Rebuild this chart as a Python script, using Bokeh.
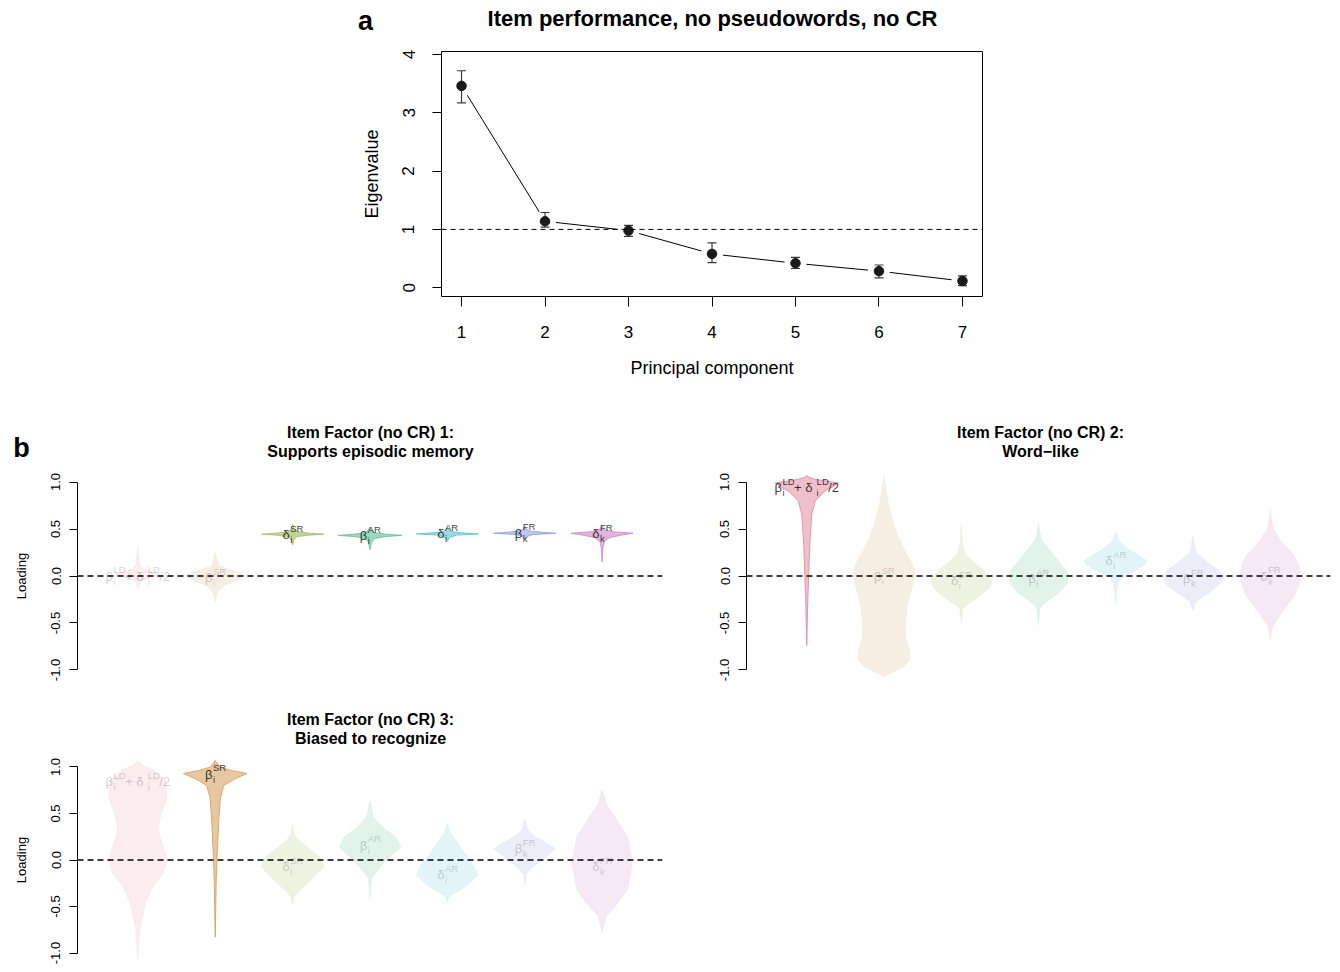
import math
from bokeh.plotting import figure
from bokeh.models import Range1d, Span, FixedTicker, NumeralTickFormatter, ColumnDataSource
from bokeh.layouts import column, row
from bokeh.embed import file_html
from bokeh.resources import INLINE
from bokeh.core.properties import value

FONT = "Liberation Sans"
W = 1340

# ---------------- Panel a data ----------------
components = [1, 2, 3, 4, 5, 6, 7]
eigen_mean = [3.46, 1.14, 0.98, 0.58, 0.42, 0.285, 0.115]
eigen_lower = [3.17, 1.04, 0.88, 0.43, 0.33, 0.17, 0.035]
eigen_upper = [3.72, 1.29, 1.07, 0.77, 0.52, 0.39, 0.205]

# ---------------- Panel b data ----------------
categories = ["LD", "SR_beta", "SR_delta", "AR_beta", "AR_delta", "FR_beta", "FR_delta"]
label_parts = [
    [("β", "n"), ("i", "sub"), ("LD", "sup"), (" + δ", "n"), ("i", "sub"), ("LD", "sup"), ("/2", "n")],
    [("β", "n"), ("i", "sub"), ("SR", "sup")],
    [("δ", "n"), ("i", "sub"), ("SR", "sup")],
    [("β", "n"), ("i", "sub"), ("AR", "sup")],
    [("δ", "n"), ("i", "sub"), ("AR", "sup")],
    [("β", "n"), ("k", "sub"), ("FR", "sup")],
    [("δ", "n"), ("k", "sub"), ("FR", "sup")],
]
fill_colors = ["#EFBFCA", "#E6C7A2", "#C4D39A", "#9CD8BD", "#9ED9E2", "#BFC5EC", "#E0B5DC"]
edge_colors = ["#E48FA3", "#D9A163", "#A5BE6E", "#68C29C", "#62C6D2", "#96A2DD", "#D08CCB"]

# Factor 1: Supports episodic memory  (violin profiles: loading values and half widths)
f1_y = [
    [-0.13, -0.06, -0.02, 0.02, 0.06, 0.10, 0.32],
    [-0.28, -0.17, -0.10, -0.04, 0.01, 0.06, 0.11, 0.25],
    [0.33, 0.39, 0.42, 0.435, 0.445, 0.455, 0.47, 0.50, 0.55],
    [0.28, 0.36, 0.40, 0.42, 0.432, 0.445, 0.46, 0.49, 0.52],
    [0.37, 0.41, 0.435, 0.448, 0.458, 0.47, 0.49, 0.52],
    [0.39, 0.42, 0.44, 0.455, 0.465, 0.48, 0.50, 0.53],
    [0.15, 0.30, 0.37, 0.41, 0.44, 0.455, 0.47, 0.49, 0.53],
]
f1_w = [
    [0, 0.03, 0.15, 0.30, 0.12, 0.03, 0],
    [0, 0.03, 0.12, 0.30, 0.39, 0.22, 0.05, 0],
    [0, 0.02, 0.06, 0.22, 0.40, 0.22, 0.06, 0.02, 0],
    [0, 0.02, 0.06, 0.20, 0.41, 0.20, 0.06, 0.02, 0],
    [0, 0.03, 0.12, 0.40, 0.22, 0.06, 0.02, 0],
    [0, 0.03, 0.10, 0.40, 0.22, 0.06, 0.02, 0],
    [0, 0.01, 0.03, 0.10, 0.28, 0.40, 0.15, 0.04, 0],
]
f1_label_y = [0.0, -0.02, 0.44, 0.43, 0.45, 0.455, 0.45]
f1_highlight = [0, 0, 1, 1, 1, 1, 1]

# Factor 2: Word-like
f2_y = [
    [-0.74, -0.30, 0.0, 0.34, 0.66, 0.80, 0.90, 0.96, 0.99, 1.01, 1.03, 1.05, 1.07],
    [-1.07, -1.02, -0.97, -0.88, -0.79, -0.65, -0.54, -0.33, -0.19, -0.01, 0.09, 0.23, 0.41, 0.59, 0.80, 1.00, 1.07],
    [-0.52, -0.35, -0.31, -0.23, -0.13, -0.05, 0.05, 0.13, 0.23, 0.35, 0.57],
    [-0.53, -0.35, -0.30, -0.19, -0.08, 0.02, 0.12, 0.23, 0.37, 0.45, 0.57],
    [-0.31, -0.15, -0.08, -0.01, 0.07, 0.12, 0.16, 0.22, 0.30, 0.38, 0.48],
    [-0.37, -0.27, -0.19, -0.10, -0.01, 0.06, 0.16, 0.25, 0.43],
    [-0.69, -0.54, -0.40, -0.23, -0.10, 0.02, 0.12, 0.23, 0.37, 0.52, 0.71],
]
f2_w = [
    [0, 0.012, 0.025, 0.04, 0.065, 0.11, 0.23, 0.36, 0.41, 0.25, 0.10, 0.03, 0],
    [0, 0.12, 0.25, 0.34, 0.33, 0.28, 0.28, 0.30, 0.34, 0.40, 0.39, 0.30, 0.19, 0.11, 0.05, 0.015, 0],
    [0, 0.02, 0.07, 0.22, 0.36, 0.40, 0.30, 0.19, 0.055, 0.015, 0],
    [0, 0.02, 0.06, 0.25, 0.37, 0.39, 0.30, 0.19, 0.055, 0.02, 0],
    [0, 0.015, 0.03, 0.08, 0.28, 0.38, 0.41, 0.30, 0.14, 0.04, 0],
    [0, 0.04, 0.19, 0.33, 0.41, 0.33, 0.17, 0.04, 0],
    [0, 0.03, 0.14, 0.30, 0.37, 0.39, 0.37, 0.30, 0.14, 0.03, 0],
]
f2_label_y = [0.94, -0.01, -0.05, -0.03, 0.16, -0.03, 0.0]
f2_highlight = [1, 0, 0, 0, 0, 0, 0]

# Factor 3: Biased to recognize
f3_y = [
    [-1.08, -0.74, -0.46, -0.28, -0.14, 0.0, 0.14, 0.32, 0.50, 0.67, 0.85, 0.97, 1.02, 1.07],
    [-0.83, -0.25, 0.0, 0.42, 0.67, 0.80, 0.87, 0.93, 0.96, 1.00, 1.07],
    [-0.48, -0.40, -0.35, -0.21, -0.07, 0.03, 0.10, 0.21, 0.28, 0.39],
    [-0.42, -0.20, -0.14, 0.0, 0.14, 0.25, 0.35, 0.46, 0.64],
    [-0.46, -0.40, -0.37, -0.28, -0.16, -0.05, 0.0, 0.10, 0.18, 0.28, 0.39],
    [-0.27, -0.15, -0.10, 0.0, 0.12, 0.20, 0.25, 0.32, 0.44],
    [-0.78, -0.60, -0.50, -0.32, -0.04, 0.25, 0.46, 0.60, 0.76],
]
f3_w = [
    [0, 0.03, 0.10, 0.20, 0.33, 0.38, 0.33, 0.26, 0.30, 0.38, 0.36, 0.20, 0.06, 0],
    [0, 0.012, 0.022, 0.045, 0.067, 0.11, 0.25, 0.41, 0.22, 0.06, 0],
    [0, 0.015, 0.07, 0.25, 0.41, 0.35, 0.25, 0.08, 0.02, 0],
    [0, 0.02, 0.07, 0.22, 0.40, 0.33, 0.17, 0.045, 0],
    [0, 0.02, 0.07, 0.25, 0.40, 0.34, 0.28, 0.20, 0.14, 0.05, 0],
    [0, 0.02, 0.07, 0.22, 0.40, 0.25, 0.14, 0.04, 0],
    [0, 0.055, 0.17, 0.33, 0.39, 0.33, 0.17, 0.055, 0],
]
f3_label_y = [0.84, 0.92, -0.07, 0.16, -0.16, 0.12, -0.07]
f3_highlight = [0, 1, 0, 0, 0, 0, 0]

# ---------------- helpers ----------------
CHAR_W = {"β": 0.575, "δ": 0.556, "i": 0.222, "k": 0.5, "S": 0.667, "R": 0.722, "A": 0.667,
          "D": 0.722, "L": 0.556, "F": 0.611, " ": 0.278, "+": 0.584, "/": 0.278, "2": 0.556}


def text_width(t, size):
    return sum(CHAR_W.get(ch, 0.55) for ch in t) * size


def text_strip(height, items):
    """A full-width strip holding free text (titles, panel letters); items: (x, y, text, size, bold)."""
    p = figure(width=W, height=height, x_range=Range1d(0, W), y_range=Range1d(height, 0),
               output_backend="svg", toolbar_location=None, x_axis_location=None,
               y_axis_location=None, min_border=0)
    p.min_border_left = p.min_border_right = p.min_border_top = p.min_border_bottom = 0
    p.grid.visible = False
    p.outline_line_color = None
    for (x, y, t, size, bold) in items:
        p.text(x=[x], y=[y], text=[t], text_font=value(FONT), text_font_size=f"{size}px",
               text_font_style="bold" if bold else "normal", text_color="black",
               text_align="center", text_baseline="middle")
    return p


def style_axis(ax, tick_out, label_size, standoff):
    ax.axis_line_color = "black"
    ax.axis_line_width = 1
    ax.major_tick_line_color = "black"
    ax.major_tick_out = tick_out
    ax.major_tick_in = 0
    ax.minor_tick_line_color = None
    ax.major_label_text_font = FONT
    ax.major_label_text_font_size = f"{label_size}px"
    ax.major_label_text_color = "black"
    ax.major_label_standoff = standoff
    ax.axis_label_text_font = FONT
    ax.axis_label_text_font_style = "normal"
    ax.axis_label_text_color = "black"


# ---------------- Panel a ----------------
strip_a = text_strip(40, [(365, 20, "a", 27, True),
                          (712, 18, "Item performance, no pseudowords, no CR", 22, True)])

pa = figure(width=W, height=368, x_range=Range1d(0.76, 7.24), y_range=Range1d(-0.15, 4.05),
            output_backend="svg", toolbar_location=None,
            min_border_left=441, min_border_right=358, min_border_top=11, min_border_bottom=112)
pa.grid.visible = False
pa.outline_line_color = "black"
pa.outline_line_width = 1
pa.outline_line_alpha = 1
pa.xaxis.ticker = FixedTicker(ticks=components)
pa.xaxis.bounds = (1, 7)
pa.yaxis.ticker = FixedTicker(ticks=[0, 1, 2, 3, 4])
pa.yaxis.bounds = (0, 4)
pa.yaxis.major_label_orientation = "vertical"
style_axis(pa.xaxis[0], 10, 17, 19)
style_axis(pa.yaxis[0], 9, 17, 18)
pa.xaxis.axis_label = "Principal component"
pa.xaxis.axis_label_text_font_size = "18px"
pa.xaxis.axis_label_standoff = 17
pa.yaxis.axis_label = "Eigenvalue"
pa.yaxis.axis_label_text_font_size = "18px"
pa.yaxis.axis_label_standoff = 18

pa.line(components, eigen_mean, line_color="black", line_width=1)
pa.scatter(components, eigen_mean, size=22, fill_color="white", line_color=None)
pa.segment(x0=components, y0=eigen_lower, x1=components, y1=eigen_upper,
           line_color="#3a3a3a", line_width=1.2)
pa.scatter(components, eigen_lower, marker="dash", size=9, line_color="#3a3a3a", line_width=1.2)
pa.scatter(components, eigen_upper, marker="dash", size=9, line_color="#3a3a3a", line_width=1.2)
pa.scatter(components, eigen_mean, size=9.5, fill_color="#1a1a1a", line_color="#1a1a1a")
pa.add_layout(Span(location=1, dimension="width", line_color="black", line_dash="5 4", line_width=1))


# ---------------- Panels b ----------------
def violin_panel(height, mbl, mbr, mbt, mbb, prof_y, prof_w, lab_y, highlight, width=W // 2,
                 ylabel=None):
    p = figure(width=width, height=height, x_range=Range1d(0.22, 7.78), y_range=Range1d(-1.08, 1.08),
               output_backend="svg", toolbar_location=None, x_axis_location=None,
               min_border_left=mbl, min_border_right=mbr, min_border_top=mbt, min_border_bottom=mbb)
    p.grid.visible = False
    p.outline_line_color = None
    p.yaxis.ticker = FixedTicker(ticks=[-1, -0.5, 0, 0.5, 1])
    p.yaxis.bounds = (-1, 1)
    p.yaxis.formatter = NumeralTickFormatter(format="0.0")
    p.yaxis.major_label_orientation = "vertical"
    style_axis(p.yaxis[0], 8, 13, 9)
    if ylabel:
        p.yaxis.axis_label = ylabel
        p.yaxis.axis_label_text_font_size = "13px"
        p.yaxis.axis_label_standoff = 20

    for i in range(len(categories)):
        c = components[i]
        ys = prof_y[i]
        ws = prof_w[i]
        xs = [c + w for w in ws] + [c - w for w in reversed(ws)]
        yy = list(ys) + list(reversed(ys))
        if highlight[i]:
            p.patch(xs, yy, fill_color=fill_colors[i], fill_alpha=1.0,
                    line_color=edge_colors[i], line_alpha=0.9, line_width=1)
        else:
            p.patch(xs, yy, fill_color=fill_colors[i], fill_alpha=0.3,
                    line_color=edge_colors[i], line_alpha=0.08, line_width=1)

    # composite labels (Greek letter, subscript, superscript)
    src = dict(x=[], y=[], text=[], xo=[], yo=[], fs=[], alpha=[])
    base, small = 13.0, 9.5
    for i, parts in enumerate(label_parts):
        total = 0.0
        grp = 0.0
        for t, kind in parts:
            if kind == "n":
                total += grp
                grp = 0.0
                total += text_width(t, base)
            else:
                grp = max(grp, text_width(t, small))
        total += grp
        cur = -total / 2.0
        grp = 0.0
        alpha = 0.78 if highlight[i] else 0.2
        for t, kind in parts:
            if kind == "n":
                cur += grp
                grp = 0.0
                src["x"].append(components[i]); src["y"].append(lab_y[i])
                src["text"].append(t); src["xo"].append(cur); src["yo"].append(0.0)
                src["fs"].append(f"{base}px"); src["alpha"].append(alpha)
                cur += text_width(t, base)
            else:
                yo = -6.5 if kind == "sup" else 5.0
                src["x"].append(components[i]); src["y"].append(lab_y[i])
                src["text"].append(t); src["xo"].append(cur + 0.5); src["yo"].append(yo)
                src["fs"].append(f"{small}px"); src["alpha"].append(alpha)
                grp = max(grp, text_width(t, small))
    p.text(x="x", y="y", text="text", x_offset="xo", y_offset="yo", text_font_size="fs",
           text_alpha="alpha", text_color="black", text_font=value(FONT),
           text_align="left", text_baseline="middle", source=ColumnDataSource(src))

    p.add_layout(Span(location=0, dimension="width", line_color="black", line_dash="6 4", line_width=1.3))
    return p


strip_b = text_strip(54, [(21, 39, "b", 27, True),
                          (370, 24, "Item Factor (no CR) 1:", 16, True),
                          (370, 43, "Supports episodic memory", 16, True),
                          (1040, 24, "Item Factor (no CR) 2:", 16, True),
                          (1040, 43, "Word\u2212like", 16, True)])

pb1 = violin_panel(231, 77, 8, 12, 16, f1_y, f1_w, f1_label_y, f1_highlight, ylabel="Loading")
pb2 = violin_panel(231, 76, 10, 12, 16, f2_y, f2_w, f2_label_y, f2_highlight)

strip_b3 = text_strip(54, [(370, 26, "Item Factor (no CR) 3:", 16, True),
                           (370, 45, "Biased to recognize", 16, True)])

pb3 = violin_panel(223, 77, W - 662, 12, 10, f3_y, f3_w, f3_label_y, f3_highlight, width=W,
                   ylabel="Loading")

# each figure wrapped in its own row so that frames are not aligned across rows
layout = column(row(strip_a), row(pa), row(strip_b), row(pb1, pb2), row(strip_b3), row(pb3))
open("out.html", "w").write(file_html(layout, INLINE))
